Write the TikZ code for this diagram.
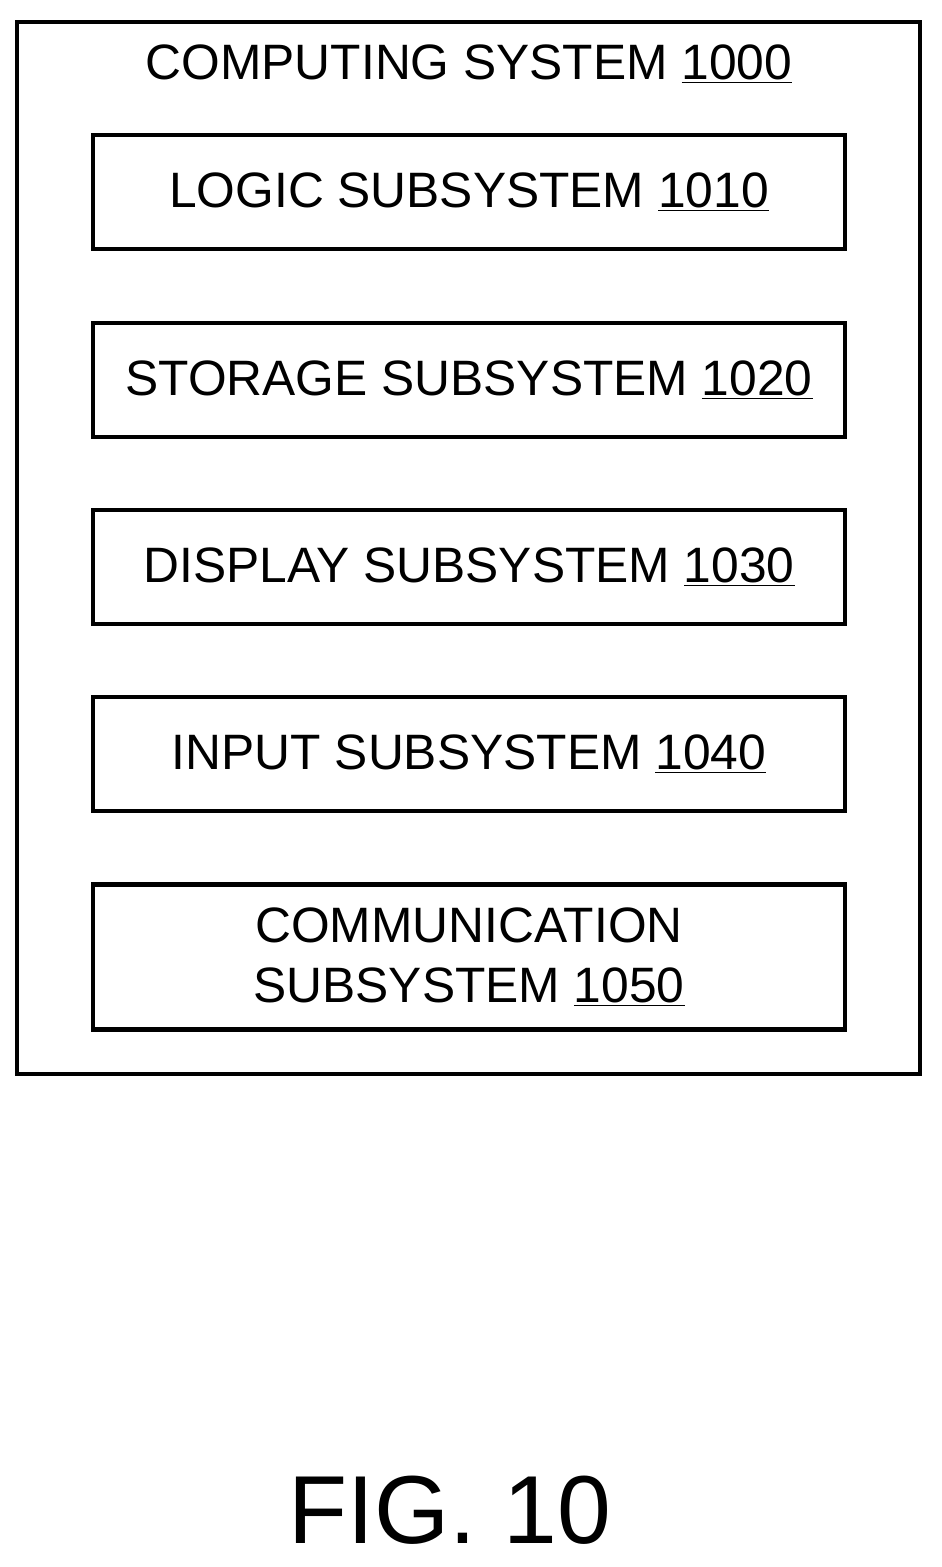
\documentclass[tikz,border=0pt]{standalone}
\usepackage{fontspec}
\setmainfont{Liberation Sans}
\usetikzlibrary{positioning}
\tikzset{
  subbox/.style={draw, line width=2.4pt, minimum width=15.04cm, minimum height=2.28cm,
    align=center, font=\fontsize{28.3}{34}\selectfont, inner sep=0pt},
}
\begin{document}
\begin{tikzpicture}[x=0.02cm,y=-0.02cm]
\useasboundingbox (0,0) rectangle (942,1567);
\draw [line width=2.4pt] (17,22) rectangle (920,1074);
\node (sys) [font=\fontsize{28.3}{34}\selectfont] at (469,64) {COMPUTING SYSTEM \underline{1000}};
\node (logic) [subbox] at (469,192) {LOGIC SUBSYSTEM \underline{1010}};
\node (storage) [subbox] at (469,380) {STORAGE SUBSYSTEM \underline{1020}};
\node (display) [subbox] at (469,567) {DISPLAY SUBSYSTEM \underline{1030}};
\node (input) [subbox] at (469,754) {INPUT SUBSYSTEM \underline{1040}};
\node (comm) [subbox, minimum height=2.9cm] at (469,957) {COMMUNICATION\\SUBSYSTEM \underline{1050}};
\node (fig) [font=\fontsize{55}{60}\selectfont] at (450,1510) {FIG. 10};
\end{tikzpicture}
\end{document}
